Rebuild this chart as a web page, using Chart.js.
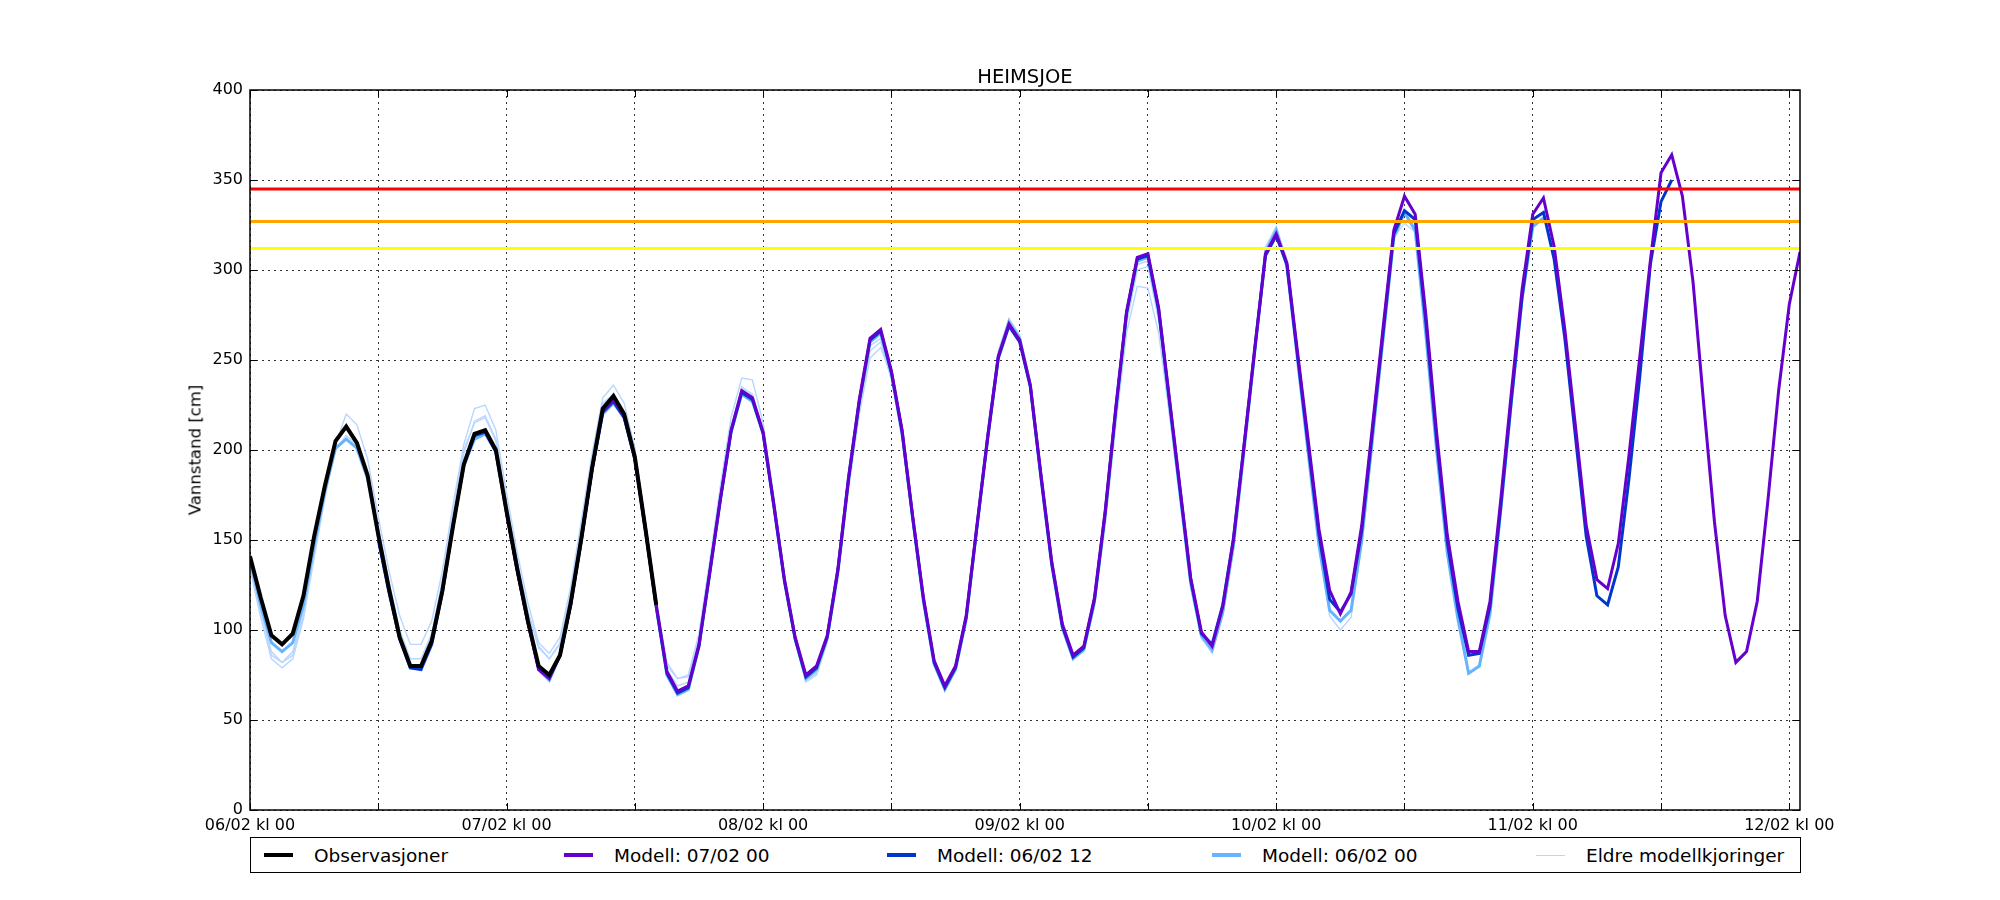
<!DOCTYPE html>
<html>
<head>
<meta charset="utf-8">
<title>HEIMSJOE</title>
<script src="https://cdn.jsdelivr.net/npm/chart.js@4.4.1/dist/chart.umd.min.js"></script>
<style>
  body { margin: 0; background: #fff; font-family: 'DejaVu Sans', sans-serif; }
  #wrap { position: relative; width: 2000px; height: 900px; }
  #title { position: absolute; left: 250px; width: 1550px; top: 65px; text-align: center; font-size: 19.5px; line-height: 24px; color: #000; }
  #ylab { position: absolute; left: 195px; top: 450px; transform: translate(-50%, -50%) rotate(-90deg); font-size: 16.5px; white-space: nowrap; color: #000; }
  #legend { position: absolute; left: 250px; top: 837px; width: 1551px; height: 36px; box-sizing: border-box; border: 1.5px solid #000; background: #fff; }
  .item { position: absolute; top: 0; height: 100%; display: flex; align-items: center; font-size: 18.5px; white-space: nowrap; color: #000; }
  .swatch { display: inline-block; width: 29px; margin-right: 21px; }
</style>
</head>
<body>
<div id="wrap">
  <canvas id="vannChart" width="2000" height="900"></canvas>
  <div id="title">HEIMSJOE</div>
  <div id="ylab">Vannstand [cm]</div>
  <div id="legend"></div>
</div>
<script>
// tick labels, one per day (hours 0, 24, 48 ...)
const xTickLabels = ['06/02 kl 00', '07/02 kl 00', '08/02 kl 00', '09/02 kl 00', '10/02 kl 00', '11/02 kl 00', '12/02 kl 00'];
const gridHours = [0, 12, 24, 36, 48, 60, 72, 84, 96, 108, 120, 132, 144];
const xMax = 145;

// warning levels [cm]
const levelRed = 345;
const levelOrange = 327;
const levelYellow = 312;

// observations, hourly from 06/02 00
const obsStart = 0;
const obsValues = [
  141, 118, 97, 92, 98, 119, 152, 180, 205, 213, 204, 186,
  153, 123, 96, 80, 80, 94, 122, 158, 192, 209, 211, 200,
  166, 134, 105, 80, 75, 86, 115, 151, 190, 223, 230, 220,
  196, 156, 114
];

// Modell: 07/02 00
const mod0700Start = 24;
const mod0700Values = [
  165, 133, 104, 78, 73, 86, 114, 151, 190, 222, 228, 219,
  196, 156, 114, 77, 66, 69, 92, 132, 173, 211, 233, 229,
  210, 170, 128, 96, 75, 80, 97, 134, 185, 228, 262, 267,
  244, 211, 163, 118, 83, 69, 80, 108, 158, 207, 252, 270,
  261, 236, 186, 138, 103, 86, 91, 118, 166, 224, 277, 307,
  309, 279, 229, 179, 129, 99, 91, 113, 150, 203, 257, 309,
  320, 304, 254, 205, 156, 122, 109, 121, 158, 213, 268, 322,
  341, 331, 275, 210, 153, 116, 88, 88, 116, 172, 232, 289,
  331, 340, 313, 267, 213, 158, 128, 123, 148, 197, 251, 305,
  354, 364, 341, 293, 225, 160, 108, 82, 88, 116, 172, 233,
  281, 310
];

// Modell: 06/02 12
const mod0612Start = 12;
const mod0612Values = [
  150, 121, 95, 79, 78, 92, 121, 158, 192, 208, 210, 199,
  165, 133, 104, 79, 74, 86, 114, 150, 189, 221, 227, 218,
  195, 155, 113, 76, 65, 68, 91, 131, 172, 210, 232, 228,
  209, 169, 127, 95, 74, 79, 96, 133, 184, 227, 261, 266,
  243, 210, 162, 117, 82, 68, 79, 107, 157, 206, 251, 269,
  260, 235, 185, 137, 102, 85, 90, 117, 165, 223, 276, 306,
  308, 278, 228, 178, 128, 98, 92, 114, 151, 203, 256, 308,
  319, 303, 252, 202, 153, 117, 110, 120, 155, 210, 265, 320,
  333, 328, 271, 206, 149, 112, 86, 87, 113, 168, 228, 285,
  328, 332, 306, 262, 207, 152, 119, 114, 135, 184, 240, 303,
  338, 350
];

// Modell: 06/02 00
const mod0600Start = 0;
const mod0600Values = [
  139, 114, 93, 88, 93, 114, 147, 177, 201, 206, 201, 184,
  152, 122, 96, 79, 79, 93, 122, 159, 191, 206, 209, 199,
  166, 135, 105, 78, 72, 86, 115, 151, 189, 220, 226, 218,
  196, 156, 113, 75, 64, 67, 91, 132, 173, 210, 231, 227,
  210, 170, 128, 95, 73, 78, 96, 134, 185, 227, 260, 265,
  243, 211, 162, 116, 81, 67, 78, 106, 157, 207, 252, 271,
  262, 236, 184, 136, 101, 84, 89, 116, 164, 222, 276, 305,
  307, 277, 226, 176, 126, 97, 89, 110, 147, 200, 255, 310,
  322, 302, 250, 198, 147, 111, 105, 111, 150, 206, 262, 318,
  332, 322, 264, 200, 143, 106, 76, 80, 109, 166, 227, 284,
  324, 329
];

// eldre modellkjoringer
const oldAValues = [
  136, 110, 88, 82, 88, 110, 144, 175, 200, 208, 203, 186,
  154, 123, 96, 80, 80, 95, 125, 163, 198, 216, 219, 206,
  171, 139, 110, 91, 84, 93, 121, 157, 194, 225, 230, 221,
  198, 158, 115, 80, 73, 74, 96, 136, 176, 213, 234, 230,
  212, 172, 129, 96, 72, 77, 95, 132, 183, 226, 258, 262,
  240, 209, 161, 116, 81, 66, 78, 107, 158, 208, 252, 273,
  263, 237, 187, 139, 103, 84, 88, 114, 162, 220, 274, 303,
  305, 276, 227, 177, 127, 96, 87, 108, 145, 198, 254, 312,
  324, 305, 251, 198, 146, 108, 100, 107, 147, 203, 262, 318,
  326, 321
];
const oldBValues = [
  134, 107, 84, 79, 84, 106, 140, 173, 203, 220, 214, 195,
  163, 133, 108, 92, 92, 105, 133, 170, 203, 223, 225, 211,
  176, 143, 115, 93, 87, 96, 124, 161, 198, 229, 236, 226,
  201, 160, 117, 82, 73, 75, 98, 138, 180, 218, 240, 239,
  215, 174, 130, 94, 71, 75, 93, 128, 178, 220, 251, 257,
  241, 205, 158, 114, 80, 67, 79, 109, 160, 211, 255, 273,
  264, 238, 188, 140, 105, 87, 90, 113, 158, 214, 265, 291,
  290, 265, 220, 172, 124, 95, 88, 108, 148, 202, 258, 313,
  324, 306
];
const oldCValues = [
  137, 112, 86, 82, 86, 108, 143, 176, 200, 206, 202, 186,
  157, 127, 100, 84, 84, 98, 128, 166, 200, 215, 218, 205,
  170, 138, 110, 90, 84, 92, 120, 156, 193, 226, 231, 221,
  197, 157, 114, 78, 69, 71, 93, 133, 175, 212, 235, 231,
  211, 171, 128, 94, 72, 76, 94, 130, 181, 223, 255, 260,
  239, 207, 160, 115, 82, 67, 79, 107, 158, 209, 253, 272,
  262, 236, 186, 138, 103, 85, 89, 114, 161, 218, 270, 300,
  302, 272
];

const toPoints = (start, values) => values.map((v, i) => ({ x: start + i, y: v }));
const levelLine = v => [{ x: 0, y: v }, { x: xMax, y: v }];

const colObs = '#000000';
const colM0700 = '#6600cc';
const colM0612 = '#0036cc';
const colM0600 = '#66b3ff';
const colOld = '#b8d6ff';

Chart.defaults.font.family = "'DejaVu Sans', sans-serif";
Chart.defaults.color = '#000';

// dataset 0 is drawn on top
const datasets = [
  { data: levelLine(levelRed), borderColor: '#ff0000', borderWidth: 3 },
  { data: levelLine(levelOrange), borderColor: '#ffa500', borderWidth: 3 },
  { data: levelLine(levelYellow), borderColor: '#ffff00', borderWidth: 3 },
  { label: 'Observasjoner', data: toPoints(obsStart, obsValues), borderColor: colObs, borderWidth: 4 },
  { label: 'Modell: 07/02 00', data: toPoints(mod0700Start, mod0700Values), borderColor: colM0700, borderWidth: 3 },
  { label: 'Modell: 06/02 12', data: toPoints(mod0612Start, mod0612Values), borderColor: colM0612, borderWidth: 3 },
  { label: 'Modell: 06/02 00', data: toPoints(mod0600Start, mod0600Values), borderColor: colM0600, borderWidth: 3 },
  { label: 'Eldre modellkjoringer', data: toPoints(0, oldAValues), borderColor: colOld, borderWidth: 1.4 },
  { data: toPoints(0, oldBValues), borderColor: colOld, borderWidth: 1.4 },
  { data: toPoints(0, oldCValues), borderColor: colOld, borderWidth: 1.4 }
];

// box round the axes and ticks pointing inwards, like the matplotlib original
const axesFrame = {
  id: 'axesFrame',
  afterDraw(chart) {
    const { ctx, chartArea: a, scales } = chart;
    const len = 7;
    ctx.save();
    ctx.strokeStyle = '#000';
    ctx.lineWidth = 1;
    ctx.beginPath();
    gridHours.forEach(h => {
      const px = Math.round(scales.x.getPixelForValue(h)) + 0.5;
      ctx.moveTo(px, a.bottom); ctx.lineTo(px, a.bottom - len);
      ctx.moveTo(px, a.top); ctx.lineTo(px, a.top + len);
    });
    scales.y.ticks.forEach(t => {
      const py = Math.round(scales.y.getPixelForValue(t.value)) + 0.5;
      ctx.moveTo(a.left, py); ctx.lineTo(a.left + len, py);
      ctx.moveTo(a.right, py); ctx.lineTo(a.right - len, py);
    });
    ctx.stroke();
    ctx.lineWidth = 1.5;
    ctx.strokeRect(a.left, a.top, a.right - a.left, a.bottom - a.top);
    ctx.restore();
  }
};

const gridStyle = { color: '#333', lineWidth: 1, drawTicks: false };
const borderStyle = { display: false, dash: [2, 4] };

const chart = new Chart(document.getElementById('vannChart'), {
  type: 'line',
  data: { datasets },
  options: {
    responsive: false,
    animation: false,
    devicePixelRatio: 1,
    layout: { padding: { left: 0, right: 200, top: 90, bottom: 0 } },
    elements: { point: { radius: 0 }, line: { tension: 0, borderCapStyle: 'butt', borderJoinStyle: 'miter' } },
    plugins: { legend: { display: false }, title: { display: false }, tooltip: { enabled: false } },
    scales: {
      x: {
        type: 'linear', min: 0, max: xMax,
        afterFit: s => { s.height = 90; },
        afterBuildTicks: s => { s.ticks = gridHours.map(h => ({ value: h })); },
        ticks: {
          autoSkip: false, maxRotation: 0, padding: 6, font: { size: 16 },
          callback: v => (v % 24 === 0 ? xTickLabels[v / 24] : '')
        },
        grid: gridStyle,
        border: borderStyle
      },
      y: {
        min: 0, max: 400,
        afterFit: s => { s.width = 250; },
        ticks: { stepSize: 50, padding: 7, font: { size: 16 } },
        grid: gridStyle,
        border: borderStyle
      }
    }
  },
  plugins: [axesFrame]
});

// legend below the plot, five columns
const legendItems = [
  { text: 'Observasjoner', color: colObs, width: 4, left: 13 },
  { text: 'Modell: 07/02 00', color: colM0700, width: 4, left: 313 },
  { text: 'Modell: 06/02 12', color: colM0612, width: 4, left: 636 },
  { text: 'Modell: 06/02 00', color: colM0600, width: 4, left: 961 },
  { text: 'Eldre modellkjoringer', color: colOld, width: 1.5, left: 1285 }
];
const legendBox = document.getElementById('legend');
legendItems.forEach(it => {
  const item = document.createElement('div');
  item.className = 'item';
  item.style.left = it.left + 'px';
  const sw = document.createElement('span');
  sw.className = 'swatch';
  sw.style.borderTop = it.width + 'px solid ' + it.color;
  item.appendChild(sw);
  item.appendChild(document.createTextNode(it.text));
  legendBox.appendChild(item);
});
</script>
</body>
</html>
